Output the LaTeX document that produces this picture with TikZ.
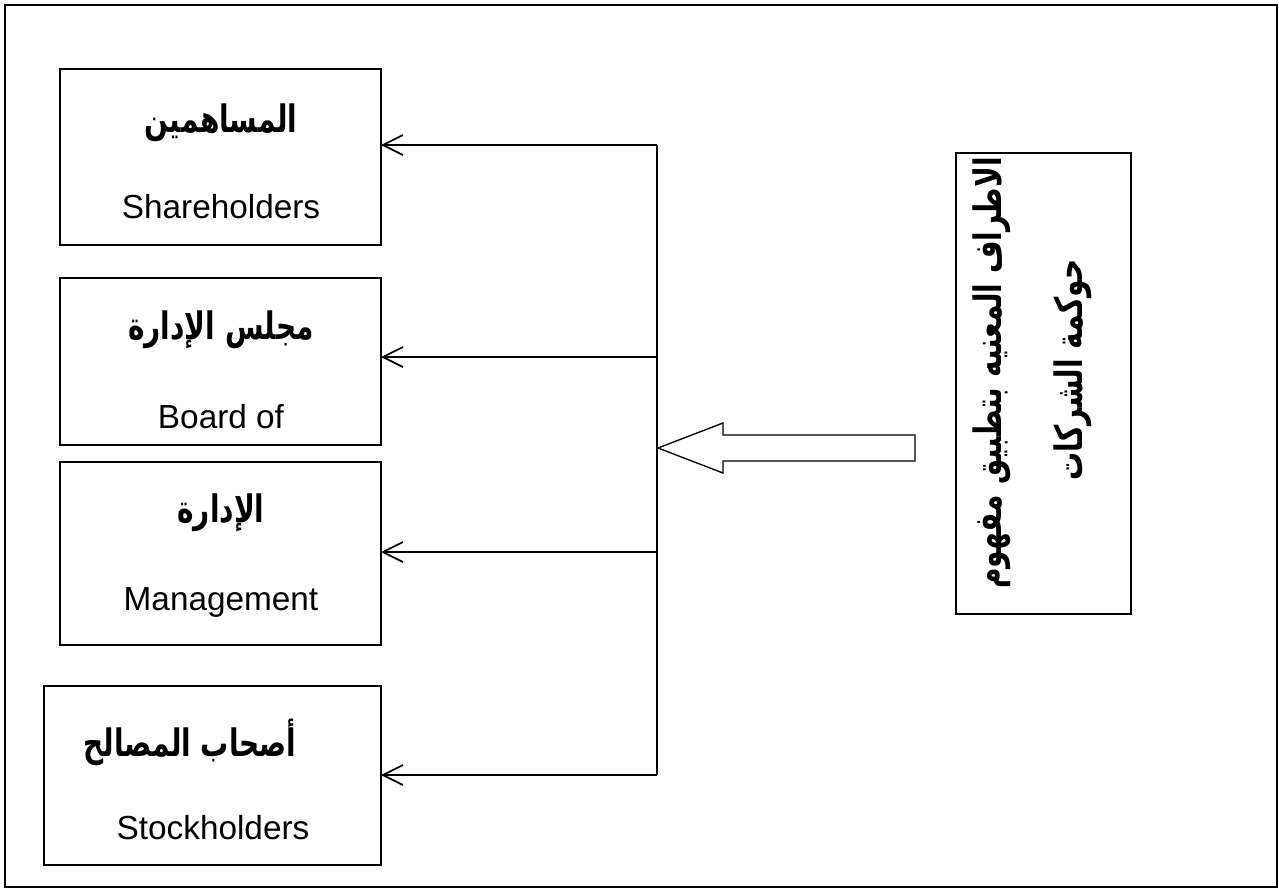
\documentclass[tikz,border=0pt]{standalone}
\usepackage{fontspec}
\usepackage{graphicx}
\setmainfont{Liberation Sans}
\newfontfamily\arabicfont[Script=Arabic]{DejaVu Sans}
\TeXXeTstate=1
\usetikzlibrary{arrows.meta}
\newcommand{\ar}[1]{\scalebox{1}[1.35]{\arabicfont\bfseries\fontsize{21}{25}\selectfont\beginR #1\endR}}
\newcommand{\en}[1]{{\fontsize{25}{30}\selectfont #1}}
\begin{document}
\begin{tikzpicture}[x=0.75pt,y=-0.75pt,
  box/.style={draw,line width=1.1pt,inner sep=0pt,outer sep=0pt},
  link/.style={line width=1.3pt,-{Straight Barb[length=15pt,width=15pt,line width=1.3pt]}},
  bus/.style={line width=1.3pt},
  lbl/.style={inner sep=0pt}]
\useasboundingbox (0,0) rectangle (1279,890);
\draw[line width=1.6pt] (5,5) rectangle (1277,887);

% target boxes
\node[box,minimum width=240.75pt,minimum height=132pt] (b1) at (220.5,157) {};
\node[box,minimum width=240.75pt,minimum height=125.25pt] (b2) at (220.5,361.5) {};
\node[box,minimum width=240.75pt,minimum height=137.25pt] (b3) at (220.5,553.5) {};
\node[box,minimum width=252.75pt,minimum height=134.25pt] (b4) at (212.5,775.5) {};

% box labels
\node[lbl] (a1) at (221,123) {\ar{المساهمين}};
\node[lbl] (e1) at (221,207) {\en{Shareholders}};
\node[lbl] (a2) at (221,330) {\ar{مجلس الإدارة}};
\node[lbl] (e2) at (221,417) {\en{Board of}};
\node[lbl] (a3) at (221,513) {\ar{الإدارة}};
\node[lbl] (e3) at (221,602) {\en{Management}};
\node[lbl] (a4) at (190,742) {\ar{أصحاب المصالح}};
\node[lbl] (e4) at (213,828) {\en{Stockholders}};

% source box with vertical text
\node[box,minimum width=131.25pt,minimum height=345.75pt] (src) at (1043.5,383.5) {};
\node[lbl,rotate=90] (s1) at (992,373) {\ar{الاطراف المعنيه بتطبيق مفهوم}};
\node[lbl,rotate=90] (s2) at (1073,370) {\ar{حوكمة الشركات}};

% distribution bus
\coordinate (j1) at (657,145);
\coordinate (j2) at (657,357);
\coordinate (j3) at (657,552);
\coordinate (j4) at (657,775);
\draw[bus] (j1) -- (j4);
\draw[link] (j1) -- (j1 -| b1.east);
\draw[link] (j2) -- (j2 -| b2.east);
\draw[link] (j3) -- (j3 -| b3.east);
\draw[link] (j4) -- (j4 -| b4.east);

% block arrow pointing at the bus
\coordinate (tip) at (658,448);
\draw[line width=1pt,line join=miter] (tip) -- (723,423) -- (723,435) -- (915,435)
  -- (915,461) -- (723,461) -- (723,473) -- cycle;
\end{tikzpicture}
\end{document}
